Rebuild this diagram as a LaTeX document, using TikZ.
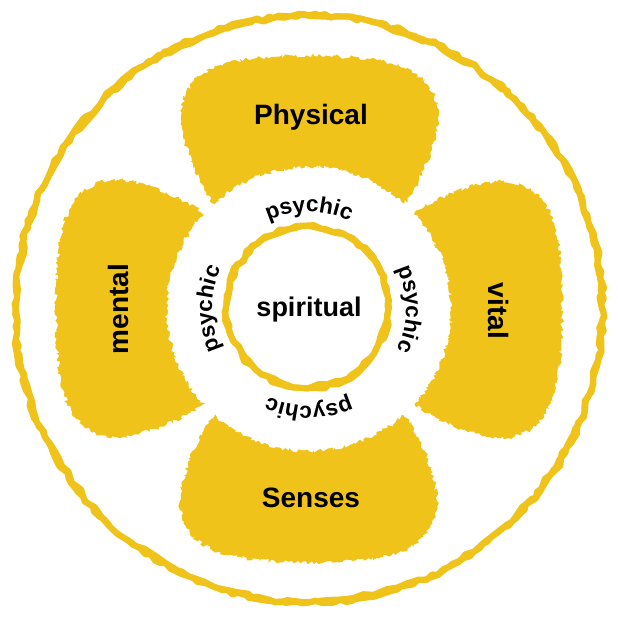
\documentclass[tikz,border=0pt]{standalone}
\usepackage{fontspec}
\setmainfont{Liberation Sans}
\usetikzlibrary{decorations.pathmorphing,decorations.text}
\definecolor{ygold}{RGB}{239,195,26}
\newcommand\psyfont{\bfseries\fontsize{22.5}{24}\selectfont}
\begin{document}
\begin{tikzpicture}[x=1pt,y=1pt,
  rough/.style={decorate, decoration={random steps, segment length=2.2pt, amplitude=2pt}},
  wobble/.style={decorate, decoration={random steps, segment length=6pt, amplitude=2pt}},
  bigwobble/.style={decorate, decoration={random steps, segment length=11pt, amplitude=3pt}},
  ringline/.style={draw=ygold, line join=round, line cap=round},
  biglabel/.style={font=\bfseries\fontsize{28}{30}\selectfont, inner sep=0pt, anchor=base},
  psytext/.style={decorate, decoration={text along path, text={|\psyfont|psychic}, text align=center}},
 ]
\pgfmathsetseed{2024}
\useasboundingbox (-309,-309) rectangle (309,309);
% outer ring
\draw[ringline, bigwobble, line width=6pt] (0,0) circle (293);
\draw[ringline, wobble, line width=6pt] (0,0) circle (293.5);
% four blobs
\foreach \ang in {0,-90,180,90}{
  \fill[ygold, rough, rotate=\ang] (-90,100) .. controls (-105,112) and (-128,165) .. (-128,192)
    .. controls (-128,222) and (-108,242) .. (-72,248)
    .. controls (-38,255) and (38,255) .. (72,248)
    .. controls (108,242) and (129,222) .. (129,192)
    .. controls (129,165) and (105,112) .. (90,100) -- cycle;
}
% white psychic annulus
\fill[white, rough] (0,0) circle (142);
% spiritual ring
\draw[ringline, bigwobble, line width=6pt] (-1.5,2) circle (80);
\draw[ringline, wobble, line width=6pt] (-1.5,2) circle (81);
% labels
\node[biglabel] (physical) at (2,184) {Physical};
\node[biglabel] (senses) at (2,-198) {Senses};
\node[biglabel, rotate=-90] (vital) at (179,-2) {vital};
\node[biglabel, rotate=90] (mental) at (-180,0) {mental};
\node[font=\bfseries\fontsize{27}{29}\selectfont, inner sep=0pt, anchor=base] (spiritual) at (0,-8) {spiritual};
% psychic texts along the circle
\path[psytext] (150:97) arc[start angle=150, end angle=30, radius=97];
\path[psytext] (60:97) arc[start angle=60, end angle=-60, radius=97];
\path[psytext] (-30:97) arc[start angle=-30, end angle=-150, radius=97];
\path[psytext] (-120:97) arc[start angle=-120, end angle=-240, radius=97];
\end{tikzpicture}
\end{document}
